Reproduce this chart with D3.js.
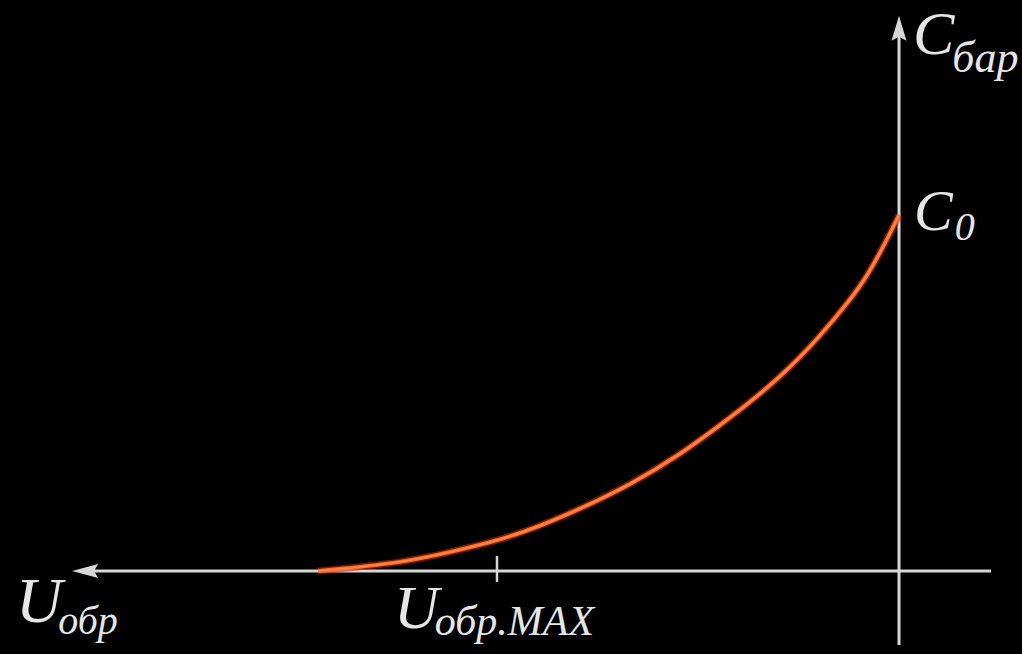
<!DOCTYPE html>
<html lang="ru">
<head>
<meta charset="UTF-8">
<title>Барьерная ёмкость</title>
<style>
  html, body { margin: 0; padding: 0; background: #000; }
  svg { display: block; }
  .lbl { font-family: "Liberation Serif", "DejaVu Serif", serif; font-style: italic; fill: #e6e6e6; }
</style>
</head>
<body>
<div id="chart"></div>
<script src="https://d3js.org/d3.v7.min.js"></script>
<script>
  // reverse voltage, in units of U_обр.MAX (grows to the left)
  const uValues = [0, 0.03, 0.08, 0.122, 0.197, 0.296, 0.42, 0.545, 0.669, 0.794, 0.893, 1.0, 1.117, 1.241, 1.445];
  // barrier capacitance, in units of C0
  const cValues = [1.0, 0.93, 0.826, 0.761, 0.658, 0.542, 0.43, 0.326, 0.242, 0.174, 0.126, 0.084, 0.053, 0.022, 0];
  const uTicks = [1];
  const uRange = [-0.229, 2.057];
  const cRange = [-0.208, 1.56];

  const width = 1022, height = 654;
  const svg = d3.select("#chart").append("svg")
    .attr("width", width).attr("height", height);

  const x = d3.scaleLinear().domain([0, 1]).range([899, 497]);
  const y = d3.scaleLinear().domain([0, 1]).range([571, 215]);

  const axisColor = "#d6d6d6";

  // horizontal axis (U_обр), arrow to the left
  svg.append("line")
    .attr("x1", x(uRange[0])).attr("x2", x(uRange[1]) + 20)
    .attr("y1", y(0)).attr("y2", y(0))
    .attr("stroke", axisColor).attr("stroke-width", 3);
  const ax = x(uRange[1]), ay = y(0);
  svg.append("path")
    .attr("d", `M${ax},${ay} L${ax + 26},${ay - 7} L${ax + 22},${ay} L${ax + 26},${ay + 7} Z`)
    .attr("fill", axisColor);

  // vertical axis (C_бар), arrow up
  svg.append("line")
    .attr("x1", x(0)).attr("x2", x(0))
    .attr("y1", y(cRange[0])).attr("y2", y(cRange[1]) + 20)
    .attr("stroke", axisColor).attr("stroke-width", 3);
  const vx = x(0), vy = y(cRange[1]);
  svg.append("path")
    .attr("d", `M${vx},${vy} L${vx - 7.5},${vy + 25} L${vx},${vy + 21} L${vx + 7.5},${vy + 25} Z`)
    .attr("fill", axisColor);

  // tick at U_обр.MAX
  svg.selectAll(".tick").data(uTicks).enter().append("line")
    .attr("x1", d => x(d)).attr("x2", d => x(d))
    .attr("y1", y(0) - 15).attr("y2", y(0) + 11)
    .attr("stroke", axisColor).attr("stroke-width", 2.5);

  // curve (smoothed through the read-off points)
  const pts = uValues.map((u, i) => [u, cValues[i]]);
  const line = d3.line().x(d => x(d[0])).y(d => y(d[1])).curve(d3.curveBasis);
  svg.append("path").datum(pts).attr("d", line)
    .attr("fill", "none").attr("stroke", "#c8300c").attr("stroke-width", 7).attr("opacity", 0.55);
  svg.append("path").datum(pts).attr("d", line)
    .attr("fill", "none").attr("stroke", "#ff6a2a").attr("stroke-width", 4);
  svg.append("path").datum(pts).attr("d", line)
    .attr("fill", "none").attr("stroke", "#ffa060").attr("stroke-width", 1.3).attr("opacity", 0.7);

  // labels
  function label(px, py, main, sub, mainSize, subSize, dy, dx) {
    const t = svg.append("text").attr("class", "lbl").attr("x", px).attr("y", py)
      .style("font-size", mainSize + "px");
    t.append("tspan").text(main);
    t.append("tspan").attr("dy", dy).attr("dx", dx).style("font-size", subSize + "px").text(sub);
  }
  label(913, 54, "C", "бар", 62, 44, 18, -2);
  label(914, 230, "C", "0", 58, 40, 10, 2);
  label(16, 622, "U", "обр", 64, 40, 12, -4);
  label(394, 628, "U", "обр.MAX", 62, 42, 7, -4);
</script>
</body>
</html>
